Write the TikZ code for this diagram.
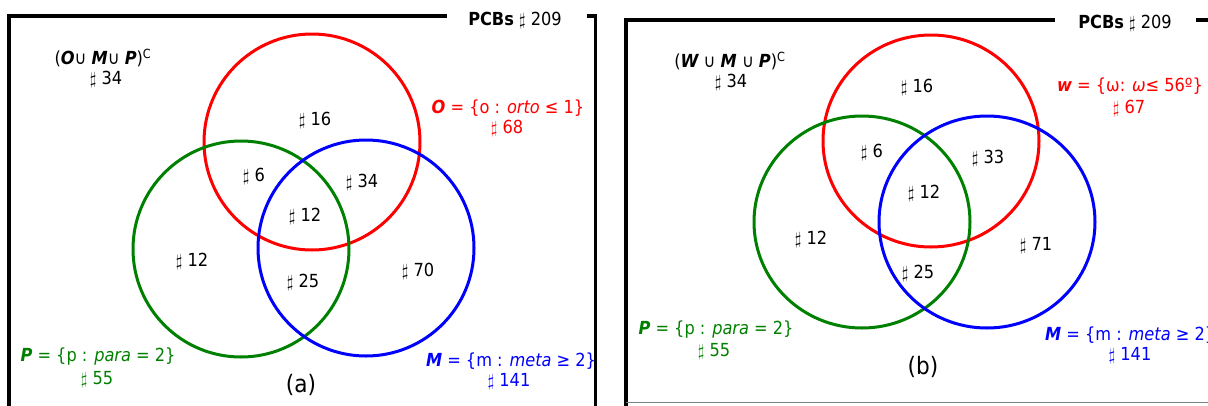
\documentclass[tikz,border=0pt]{standalone}
\usepackage{fontspec}
\setmainfont{DejaVuSansCondensed}[Extension=.ttf, UprightFont=*, BoldFont=*-Bold, ItalicFont=*-Oblique, BoldItalicFont=*-BoldOblique]
\usepackage{xcolor}
\definecolor{setred}{RGB}{255,0,0}
\definecolor{setgreen}{RGB}{0,128,0}
\definecolor{setblue}{RGB}{0,0,255}
\newcommand\setvar[1]{{\bfseries\itshape #1}}
\newcommand\shp{$\sharp$}

\begin{document}
\begin{tikzpicture}[x=1pt, y=-1pt,
    panelframe/.style={line width=3.5pt},
    ring/.style={line width=3pt},
    cnt/.style={font=\fontsize{18}{21}\selectfont, inner sep=0pt},
    captxt/.style={font=\fontsize{24}{28}\selectfont, inner sep=0pt}]
    \useasboundingbox (0,0) rectangle (1208,405);

    % (a) 邻位 / 间位 / 对位
    \begin{scope}
        \draw[panelframe] (447,16) -- (9,16) -- (9,406);
        \draw[panelframe] (587,16) -- (595.5,16) -- (595.5,406);
        \node[cnt] (pcbsA) at (515,20) {\textbf{PCBs} \shp{} 209};

        % 三个集合
        \draw[ring, setred] (312,142) circle (108);
        \draw[ring, setgreen] (241,249) circle (108);
        \draw[ring, setblue] (366,248) circle (108);

        \node[cnt] (compA) at (103,58) {(\setvar{O}∪ \setvar{M}∪ \setvar{P})\textsuperscript{C}};
        \node[cnt] (nCompA) at (106,79) {\shp{} 34};

        % 各区域
        \node[cnt] (nOA) at (315,120) {\shp{} 16};
        \node[cnt] (nOPA) at (254,176) {\shp{} 6};
        \node[cnt] (nOMA) at (362,182) {\shp{} 34};
        \node[cnt] (nOMPA) at (305,216) {\shp{} 12};
        \node[cnt] (nPA) at (192,261) {\shp{} 12};
        \node[cnt] (nMPA) at (303,282) {\shp{} 25};
        \node[cnt] (nMA) at (418,271) {\shp{} 70};

        % 集合说明
        \node[cnt, setred] (labO) at (508,108) {\setvar{O} = \{o : \textit{orto} ≤ 1\}};
        \node[cnt, setred] (sumO) at (507,128) {\shp{} 68};
        \node[cnt, setgreen] (labPA) at (98,357) {\setvar{P} = \{p : \textit{para} = 2\}};
        \node[cnt, setgreen] (sumPA) at (97,380) {\shp{} 55};
        \node[cnt, setblue] (labMA) at (511,361) {\setvar{M} = \{m : \textit{meta} ≥ 2\}};
        \node[cnt, setblue] (sumMA) at (509,382) {\shp{} 141};

        \node[captxt] (capA) at (301,385) {(a)};
    \end{scope}

    % (b) 二面角
    \begin{scope}[xshift=617pt]
        \draw[panelframe] (438,20) -- (9,20) -- (9,406);
        \draw[panelframe] (579,20) -- (595,20);
        \draw[gray, line width=1pt] (9,402.5) -- (595,402.5);
        \node[cnt] (pcbsB) at (508,23) {\textbf{PCBs} \shp{} 209};

        % 三个集合
        \draw[ring, setred] (314,141) ellipse (108 and 106);
        \draw[ring, setgreen] (245,222) ellipse (108 and 106);
        \draw[ring, setblue] (370,222) ellipse (108 and 106);

        \node[cnt] (compB) at (113,61) {(\setvar{W} ∪ \setvar{M} ∪ \setvar{P})\textsuperscript{C}};
        \node[cnt] (nCompB) at (114,82) {\shp{} 34};

        % 各区域
        \node[cnt] (nWB) at (300,87) {\shp{} 16};
        \node[cnt] (nWPB) at (255,152) {\shp{} 6};
        \node[cnt] (nWMB) at (371,158) {\shp{} 33};
        \node[cnt] (nWMPB) at (307,193) {\shp{} 12};
        \node[cnt] (nPB) at (194,239) {\shp{} 12};
        \node[cnt] (nMPB) at (301,273) {\shp{} 25};
        \node[cnt] (nMB) at (419,246) {\shp{} 71};

        % 集合说明
        \node[cnt, setred] (labW) at (513,86) {\setvar{w} = \{ω: \textit{ω}≤ 56º\}};
        \node[cnt, setred] (sumW) at (512,108) {\shp{} 67};
        \node[cnt, setgreen] (labPB) at (99,330) {\setvar{P} = \{p : \textit{para} = 2\}};
        \node[cnt, setgreen] (sumPB) at (97,352) {\shp{} 55};
        \node[cnt, setblue, anchor=west] (labMB) at (428,335) {\setvar{M} = \{m : \textit{meta} ≥ 2\}};
        \node[cnt, setblue] (sumMB) at (513,356) {\shp{} 141};

        \node[captxt] (capB) at (306,367) {(b)};
    \end{scope}
\end{tikzpicture}
\end{document}
